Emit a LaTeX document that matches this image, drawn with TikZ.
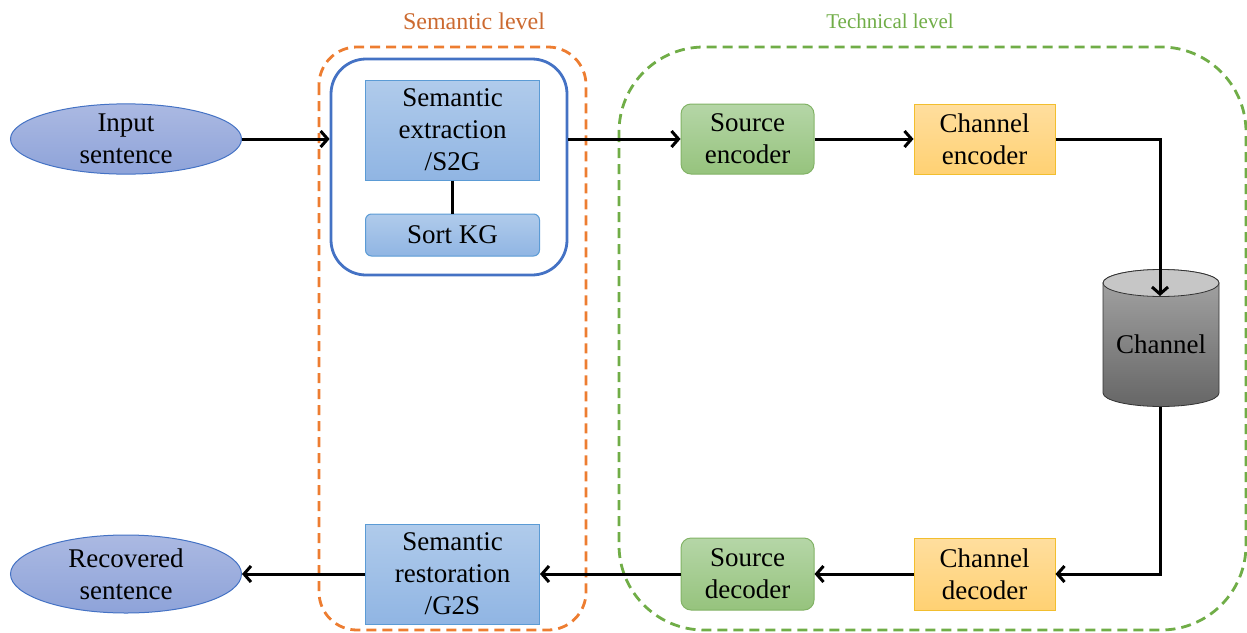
\documentclass[tikz,border=0pt]{standalone}
\usepackage{fontspec}
\setmainfont{Liberation Serif}
\usetikzlibrary{arrows.meta,shapes.geometric}
\definecolor{ellT}{HTML}{ABB9E2}
\definecolor{ellB}{HTML}{8EA3D9}
\definecolor{ellD}{HTML}{4472C4}
\definecolor{semT}{HTML}{B0CBEB}
\definecolor{semB}{HTML}{90B5E3}
\definecolor{semD}{HTML}{5B9BD5}
\definecolor{grnT}{HTML}{B5D6A7}
\definecolor{grnB}{HTML}{96C37D}
\definecolor{grnD}{HTML}{82B366}
\definecolor{orgT}{HTML}{FFDE9E}
\definecolor{orgB}{HTML}{FFD173}
\definecolor{orgD}{HTML}{F2BE2E}
\definecolor{dashO}{HTML}{ED7D31}
\definecolor{labO}{HTML}{CC6A30}
\definecolor{dashG}{HTML}{70AD47}
\definecolor{grpB}{HTML}{4472C4}
\definecolor{cylT}{HTML}{A6A6A6}
\definecolor{cylB}{HTML}{666666}
\definecolor{cylE}{HTML}{C6C6C6}
\tikzset{
  txt/.style={font=\fontsize{27}{32}\selectfont, align=center, inner sep=0pt, text depth=-8pt},
  ellnode/.style={txt, ellipse, draw=ellD, line width=1pt, top color=ellT, bottom color=ellB, minimum width=231pt, minimum height=67pt},
  sembox/.style={txt, rectangle, draw=semD, line width=1pt, top color=semT, bottom color=semB, minimum width=174pt},
  grnbox/.style={txt, rectangle, rounded corners=10pt, draw=grnD, line width=1pt, top color=grnT, bottom color=grnB, minimum width=133pt, minimum height=70pt},
  orgbox/.style={txt, rectangle, draw=orgD, line width=1pt, top color=orgT, bottom color=orgB, minimum width=141pt, minimum height=70pt},
  arr/.style={line width=3pt, -{Straight Barb[length=7pt,width=16pt]}},
  conn/.style={line width=3pt},
  grpdash/.style={line width=2.8pt, dash pattern=on 10pt off 6pt},
}
\begin{document}
\begin{tikzpicture}[x=1pt,y=-1pt]
\useasboundingbox (0,0) rectangle (1247,632);
% group frames
\draw[grpdash, draw=dashO, rounded corners=38pt] (319,47) rectangle (586,630);
\draw[grpdash, draw=dashG, rounded corners=85pt] (619,47) rectangle (1246,630);
\node[font=\fontsize{24}{28}\selectfont, text=labO] (lsem) at (474,21) {Semantic level};
\node[font=\fontsize{21}{25}\selectfont, text=dashG] (ltech) at (890,21) {Technical level};
\node[draw=grpB, line width=2.8pt, rounded corners=35pt, minimum width=236pt, minimum height=216pt, inner sep=0pt] (semgrp) at (449,167) {};
% nodes
\node[ellnode] (inp) at (126,139) {Input\\sentence};
\node[ellnode, minimum height=78pt] (rec) at (126,574) {Recovered\\sentence};
\node[sembox, minimum height=100pt] (sext) at (452.5,130) {Semantic\\extraction\\/S2G};
\node[sembox, rounded corners=6pt, minimum height=42pt] (sort) at (452.5,235) {Sort KG};
\node[sembox, minimum height=100pt] (srest) at (452.5,574) {Semantic\\restoration\\/G2S};
\node[grnbox] (senc) at (747.5,139) {Source\\encoder};
\node[orgbox] (cenc) at (984.5,139) {Channel\\encoder};
\node[grnbox, minimum height=72pt] (sdec) at (747.5,574) {Source\\decoder};
\node[orgbox, minimum height=72pt] (cdec) at (984.5,574) {Channel\\decoder};
% cylinder
\shade[top color=cylT, bottom color=cylB, draw=black!80, line width=0.8pt]
  (1103,283) -- (1103,393) arc (180:0:58 and 13.5) -- (1219,283) arc (0:-180:58 and 13.5) -- cycle;
\draw[fill=cylE, draw=black!80, line width=0.8pt] (1161,283) ellipse (58 and 13.5);
\node[txt] (chan) at (1161,344) {Channel};
\coordinate (chtop) at (1160,296);
\coordinate (chbot) at (1160,407);
% connectors
\draw[conn] (sext) -- (sort);
\draw[arr] (inp.east) -- (inp.east -| semgrp.west);
\draw[arr] (senc.west -| semgrp.east) -- (senc.west);
\draw[arr] (senc.east) -- (cenc.west);
\draw[arr] (cenc.east) -| (chtop);
\draw[arr] (chbot) |- (cdec.east);
\draw[arr] (cdec.west) -- (sdec.east);
\draw[arr] (sdec.west) -- (srest.east);
\draw[arr] (srest.west) -- (rec.east);
\end{tikzpicture}
\end{document}
